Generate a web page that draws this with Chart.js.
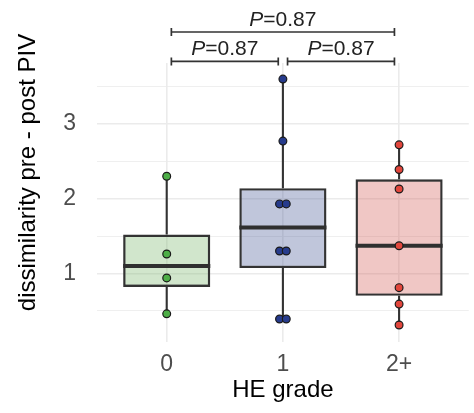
<!DOCTYPE html>
<html lang="en">
<head>
<meta charset="UTF-8">
<title>Dissimilarity by HE grade</title>
<script src="https://cdn.jsdelivr.net/npm/chart.js"></script>
<style>
  html, body { margin: 0; padding: 0; background: #fff; }
  #chart { display: block; }
</style>
</head>
<body>
<canvas id="chart" width="474" height="413"></canvas>
<script>
// groups and values
const groups = ['0', '1', '2+'];
const grade0 = [2.30, 1.26, 0.94, 0.46];
const grade1 = [3.60, 2.77, 1.93, 1.93, 1.30, 1.30, 0.39, 0.39];
const grade2 = [2.72, 2.39, 2.13, 1.37, 0.81, 0.59, 0.31];
const yMajor = [1, 2, 3];
const yMinor = [0.5, 1.5, 2.5, 3.5];
const comparisons = [[0, 1], [1, 2], [0, 2]];
const pValues = ['0.87', '0.87', '0.87'];

const values = [grade0, grade1, grade2];
const pointColors = ['#4dae47', '#263b8c', '#e2463c'];
const boxColors = ['rgba(124,184,109,0.35)', 'rgba(75,92,152,0.35)', 'rgba(212,95,89,0.35)'];
const boxWidth = 0.75;
const FONT = "'Liberation Sans', Arial, Helvetica, sans-serif";

// quantil tipo 7 (igual ao R)
function quantile(s, p) {
  const h = (s.length - 1) * p;
  const lo = Math.floor(h);
  const hi = Math.min(lo + 1, s.length - 1);
  return s[lo] + (h - lo) * (s[hi] - s[lo]);
}

const stats = values.map(v => {
  const s = [...v].sort((a, b) => a - b);
  const q1 = quantile(s, 0.25), med = quantile(s, 0.5), q3 = quantile(s, 0.75);
  const iqr = q3 - q1;
  const inside = s.filter(d => d >= q1 - 1.5 * iqr && d <= q3 + 1.5 * iqr);
  return { q1, med, q3, lo: inside[0], hi: inside[inside.length - 1] };
});

// pontos repetidos ficam lado a lado
function dodge(vals, gi) {
  const seen = {};
  return vals.map(v => {
    const n = vals.filter(w => w === v).length;
    const k = (seen[v] = (seen[v] || 0) + 1) - 1;
    return { x: gi + (k - (n - 1) / 2) * 0.058, y: v };
  });
}

const whiskerData = [];
stats.forEach((s, i) => {
  whiskerData.push({ x: i, y: s.hi }, { x: i, y: s.q3 }, { x: i, y: null },
                   { x: i, y: s.q1 }, { x: i, y: s.lo }, { x: i, y: null });
});

const pointSets = values.map((v, i) => ({
  type: 'scatter',
  data: dodge(v, i),
  pointRadius: 3.9,
  pointBackgroundColor: pointColors[i],
  pointBorderColor: '#1a1a1a',
  pointBorderWidth: 1.2,
  order: 0
}));

// colchetes e valores de P
const bracketPlugin = {
  id: 'brackets',
  afterDraw(chart) {
    const { ctx, chartArea } = chart;
    const x = chart.scales.x;
    ctx.save();
    // y axis title
    ctx.font = '24px ' + FONT;
    ctx.fillStyle = '#000';
    ctx.textAlign = 'center';
    ctx.textBaseline = 'alphabetic';
    ctx.translate(35, 172.5);
    ctx.rotate(-Math.PI / 2);
    ctx.fillText('dissimilarity pre - post PIV', 0, 0);
    ctx.restore();

    ctx.save();
    ctx.strokeStyle = '#333';
    ctx.fillStyle = '#222';
    ctx.lineWidth = 1.7;
    comparisons.forEach(([a, b], k) => {
      const level = (b - a > 1) ? 1 : 0;
      const y = chartArea.top - 1.6 - level * 29.4;
      const x1 = x.getPixelForValue(a + 0.04);
      const x2 = x.getPixelForValue(b - 0.04);
      ctx.beginPath();
      ctx.moveTo(x1, y); ctx.lineTo(x2, y);
      ctx.moveTo(x1, y - 4); ctx.lineTo(x1, y + 4);
      ctx.moveTo(x2, y - 4); ctx.lineTo(x2, y + 4);
      ctx.stroke();
      const pFont = 'italic 21px ' + FONT, rFont = '21px ' + FONT;
      const rest = '=' + pValues[k];
      ctx.font = pFont; const wp = ctx.measureText('P').width;
      ctx.font = rFont; const wr = ctx.measureText(rest).width;
      let tx = (x1 + x2) / 2 - (wp + wr) / 2;
      ctx.textAlign = 'left';
      ctx.textBaseline = 'alphabetic';
      ctx.font = pFont; ctx.fillText('P', tx, y - 6);
      ctx.font = rFont; ctx.fillText(rest, tx + wp, y - 6);
    });
    ctx.restore();
  }
};

new Chart(document.getElementById('chart'), {
  type: 'scatter',
  data: {
    datasets: [
      ...pointSets,
      {
        type: 'scatter',
        data: stats.map((s, i) => ({ x: i, y: s.med })),
        pointStyle: 'line',
        pointRadius: c => {
          const sx = c.chart.scales.x;
          return Math.abs(sx.getPixelForValue(boxWidth / 2) - sx.getPixelForValue(0));
        },
        pointBorderColor: '#2f2f2f',
        pointBorderWidth: 4,
        order: 1
      },
      {
        type: 'scatter',
        data: whiskerData,
        showLine: true,
        spanGaps: false,
        pointRadius: 0,
        borderColor: '#333',
        borderWidth: 2.1,
        order: 2
      },
      {
        type: 'bar',
        data: stats.map((s, i) => ({ x: i, y: [s.q1, s.q3] })),
        backgroundColor: boxColors,
        borderColor: '#333',
        borderWidth: 2.4,
        borderSkipped: false,
        categoryPercentage: 1,
        barPercentage: boxWidth,
        order: 3
      }
    ]
  },
  options: {
    responsive: false,
    animation: false,
    devicePixelRatio: 1,
    events: [],
    layout: { padding: { top: 63, left: 0, right: 0, bottom: 0 } },
    plugins: { legend: { display: false }, tooltip: { enabled: false } },
    scales: {
      x: {
        type: 'linear',
        min: -0.6,
        max: 2.6,
        offset: false,
        afterBuildTicks: s => { s.ticks = groups.map((g, i) => ({ value: i })); },
        afterFit: s => { s.height = 71; },
        grid: { color: '#ebebeb', lineWidth: 1.6, drawTicks: false, offset: false },
        border: { display: false },
        ticks: {
          callback: v => groups[v],
          color: '#4d4d4d',
          font: { family: FONT, size: 23 },
          padding: 9,
          maxRotation: 0
        },
        title: {
          display: true,
          text: 'HE grade',
          color: '#000',
          font: { family: FONT, size: 24 },
          padding: { top: 0, bottom: 8 }
        }
      },
      y: {
        type: 'linear',
        min: 0.083,
        max: 3.815,
        afterBuildTicks: s => {
          s.ticks = [...yMinor, ...yMajor].sort((a, b) => a - b).map(v => ({ value: v }));
        },
        afterFit: s => { s.width = 97; },
        grid: {
          color: '#ebebeb',
          lineWidth: c => yMajor.includes(c.tick && c.tick.value) ? 1.6 : 0.8,
          drawTicks: false
        },
        border: { display: false },
        ticks: {
          callback: v => yMajor.includes(v) ? String(v) : '',
          color: '#4d4d4d',
          font: { family: FONT, size: 23 },
          padding: 21
        }
      }
    }
  },
  plugins: [bracketPlugin]
});
</script>
</body>
</html>
